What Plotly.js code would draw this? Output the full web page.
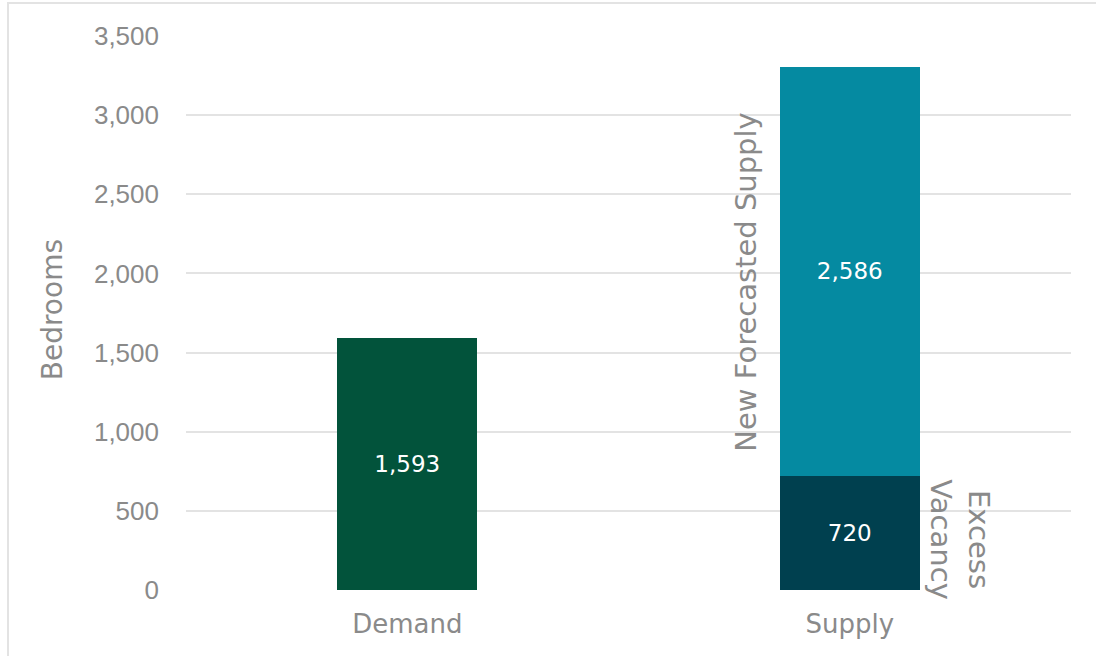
<!DOCTYPE html>
<html>
<head>
<meta charset="utf-8">
<script src="https://cdn.plot.ly/plotly-3.0.1.min.js"></script>
<style>
  html, body { margin: 0; padding: 0; background: #fff; }
  #wrap { position: relative; width: 1096px; height: 656px; overflow: hidden; }
  #chart { position: absolute; left: 0; top: 0; width: 1096px; height: 656px; }
  #frame { position: absolute; left: 7px; top: 2px; width: 1200px; height: 800px;
           border-left: 2px solid #e3e3e3; border-top: 2px solid #e3e3e3; pointer-events: none; }
</style>
</head>
<body>
<div id="wrap">
  <div id="chart"></div>
  <div id="frame"></div>
</div>
<script>
const categories = ["Demand", "Supply"];
const demandValues = [1593, null];
const vacancyValues = [null, 720];
const newSupplyValues = [null, 2586];
const yTickValues = [0, 500, 1000, 1500, 2000, 2500, 3000, 3500];
const annotationLabels = ["New Forecasted Supply", "Excess<br>Vacancy"];
const axisTitle = "Bedrooms";

const labelFont = "DejaVu Sans, sans-serif";
const fmt = v => v == null ? "" : v.toLocaleString("en-US");

const traces = [
  {
    type: "bar", x: categories, y: demandValues, name: "Demand",
    marker: { color: "#02533B" },
    text: demandValues.map(fmt), textposition: "inside", insidetextanchor: "middle",
    textfont: { color: "#ffffff", size: 23, family: labelFont },
    hoverinfo: "none"
  },
  {
    type: "bar", x: categories, y: vacancyValues, name: "Excess Vacancy",
    marker: { color: "#00404F" },
    text: vacancyValues.map(fmt), textposition: "inside", insidetextanchor: "middle",
    textfont: { color: "#ffffff", size: 23, family: labelFont },
    hoverinfo: "none"
  },
  {
    type: "bar", x: categories, y: newSupplyValues, name: "New Forecasted Supply",
    marker: { color: "#058AA1" },
    text: newSupplyValues.map(fmt), textposition: "inside", insidetextanchor: "middle",
    textfont: { color: "#ffffff", size: 23, family: labelFont },
    hoverinfo: "none"
  }
];

const layout = {
  width: 1096, height: 656,
  margin: { l: 186, r: 25, t: 36, b: 66 },
  barmode: "stack",
  bargap: 0.683,
  showlegend: false,
  paper_bgcolor: "rgba(0,0,0,0)",
  plot_bgcolor: "#ffffff",
  xaxis: {
    type: "category",
    tickfont: { family: labelFont, size: 26, color: "#8a8a8a" },
    showgrid: false, zeroline: false, showline: false, ticks: "",
    ticklabelstandoff: 16
  },
  yaxis: {
    range: [0, 3500],
    tickvals: yTickValues,
    ticktext: yTickValues.map(v => v.toLocaleString("en-US")),
    tickfont: { family: "Liberation Sans, Arial, sans-serif", size: 26, color: "#8a8a8a" },
    gridcolor: "#e3e3e3", gridwidth: 2,
    zeroline: false, showline: false, ticks: "",
    ticklabelstandoff: 26
  },
  annotations: [
    {
      x: -0.1514, y: 0.505, xref: "paper", yref: "paper",
      xanchor: "center", yanchor: "middle",
      text: axisTitle, textangle: -90, showarrow: false,
      font: { family: labelFont, size: 28, color: "#8a8a8a" }
    },
    {
      x: "Supply", y: 1946, xref: "x", yref: "y", xshift: -104,
      text: annotationLabels[0], textangle: -90, showarrow: false,
      font: { family: labelFont, size: 29, color: "#8a8a8a" }
    },
    {
      x: "Supply", y: 316, xref: "x", yref: "y", xshift: 110,
      text: annotationLabels[1], textangle: 90, showarrow: false,
      font: { family: labelFont, size: 29, color: "#8a8a8a" }
    }
  ]
};

Plotly.newPlot("chart", traces, layout, { staticPlot: true, displayModeBar: false });
</script>
</body>
</html>
